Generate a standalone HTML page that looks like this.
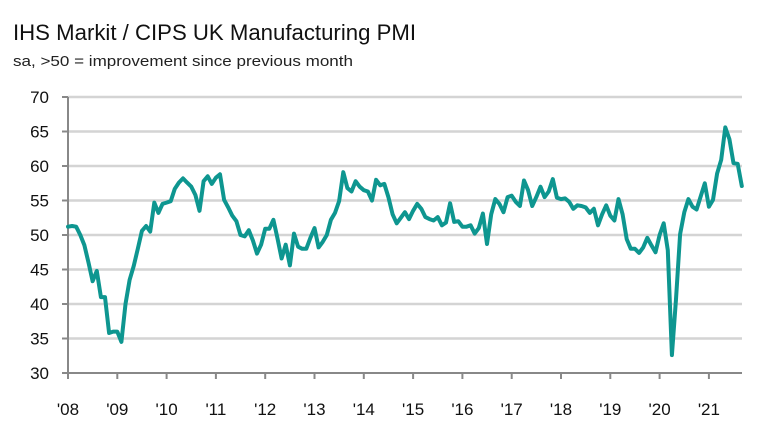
<!DOCTYPE html>
<html><head><meta charset="utf-8"><style>
body{margin:0;background:#fff;width:766px;height:430px;overflow:hidden;font-family:"Liberation Sans",sans-serif}
</style></head><body>
<svg width="766" height="430" xmlns="http://www.w3.org/2000/svg">
<text x="13" y="40" font-size="22" fill="#111" textLength="403" lengthAdjust="spacingAndGlyphs">IHS Markit / CIPS UK Manufacturing PMI</text>
<text x="13" y="66" font-size="15" fill="#222" textLength="340" lengthAdjust="spacingAndGlyphs">sa, &gt;50 = improvement since previous month</text>
<g id="grid"></g><g id="axes"></g><g id="labels"></g><g id="series"></g>
</svg>
<script>
const yTicks=[30,35,40,45,50,55,60,65,70];
const yearLabels=["'08","'09","'10","'11","'12","'13","'14","'15","'16","'17","'18","'19","'20","'21"];
const pmi2008=[51.2,51.3,51.2,50.0,48.5,46.0,43.3,44.8,41.0,41.0,35.8,36.0];
const pmi2009=[36.0,34.5,40.0,43.5,45.5,48.0,50.6,51.3,50.5,54.7,53.2,54.5];
const pmi2010=[54.7,54.9,56.7,57.6,58.2,57.6,57.0,55.8,53.5,57.8,58.5,57.4];
const pmi2011=[58.3,58.8,55.1,54.0,52.8,52.0,50.0,49.8,50.7,49.2,47.3,48.6];
const pmi2012=[50.9,50.9,52.2,49.5,46.6,48.6,45.6,50.2,48.3,48.0,48.0,49.6];
const pmi2013=[51.0,48.2,49.0,50.0,52.2,53.2,54.9,59.1,56.8,56.3,57.8,57.0];
const pmi2014=[56.5,56.3,55.0,58.0,57.2,57.4,55.5,53.0,51.7,52.5,53.3,52.3];
const pmi2015=[53.5,54.5,53.8,52.6,52.3,52.1,52.6,51.4,51.8,54.6,51.9,52.0];
const pmi2016=[51.2,51.2,51.4,50.2,51.0,53.1,48.7,53.0,55.2,54.5,53.3,55.5];
const pmi2017=[55.7,54.8,54.2,57.9,56.5,54.2,55.5,57.0,55.5,56.3,58.1,55.4];
const pmi2018=[55.2,55.3,54.8,53.8,54.3,54.2,54.0,53.2,53.8,51.4,53.0,54.3];
const pmi2019=[52.8,52.1,55.2,53.0,49.4,48.0,48.0,47.4,48.2,49.6,48.5,47.5];
const pmi2020=[50.0,51.7,47.8,32.6,40.7,50.1,53.3,55.2,54.1,53.7,55.6,57.5];
const pmi2021=[54.1,55.1,58.9,60.9,65.6,63.9,60.4,60.3,57.1];
const values=[].concat(pmi2008,pmi2009,pmi2010,pmi2011,pmi2012,pmi2013,pmi2014,pmi2015,pmi2016,pmi2017,pmi2018,pmi2019,pmi2020,pmi2021);
const NS="http://www.w3.org/2000/svg";
const X0=68,YRPX=49.3,Y70=97,Y30=373;
const xScale=m=>X0+m*YRPX/12;
const yScale=v=>Y30-(v-30)*(Y30-Y70)/40;
function mk(tag,attrs,parent){const e=document.createElementNS(NS,tag);for(const k in attrs)e.setAttribute(k,attrs[k]);document.getElementById(parent).appendChild(e);return e;}
yTicks.forEach(t=>{
  const y=yScale(t);
  if(t>30){const g=mk('line',{x1:X0,x2:742,y1:y,y2:y,stroke:'#d4d4d4','stroke-width':2.5},'grid');
  
  }
  const tk=mk('line',{x1:62,x2:X0,y1:y,y2:y,stroke:'#888','stroke-width':2},'axes');
  
  
  const l=mk('text',{x:49,y:y+6,'font-size':17,'text-anchor':'end',fill:'#111'},'labels');
  l.textContent=t;
  
  
});
const ya=mk('line',{x1:X0,x2:X0,y1:Y70,y2:Y30,stroke:'#888','stroke-width':2},'axes');


const xa=mk('line',{x1:62,x2:742,y1:Y30,y2:Y30,stroke:'#888','stroke-width':2},'axes');


yearLabels.forEach((lab,i)=>{
  const x=xScale(i*12);
  const tk=mk('line',{x1:x,x2:x,y1:Y30,y2:Y30+6,stroke:'#888','stroke-width':2},'axes');
  
  
  const t=mk('text',{x:x,y:415,'font-size':17,'text-anchor':'middle',fill:'#111'},'labels');
  t.textContent=lab;
  
  
});
const p=mk('polyline',{points:values.map((v,i)=>xScale(i).toFixed(1)+','+yScale(v).toFixed(1)).join(' '),fill:'none',stroke:'#0e9690','stroke-width':4,'stroke-linejoin':'round','stroke-linecap':'round'},'series');


</script>
</body></html>
